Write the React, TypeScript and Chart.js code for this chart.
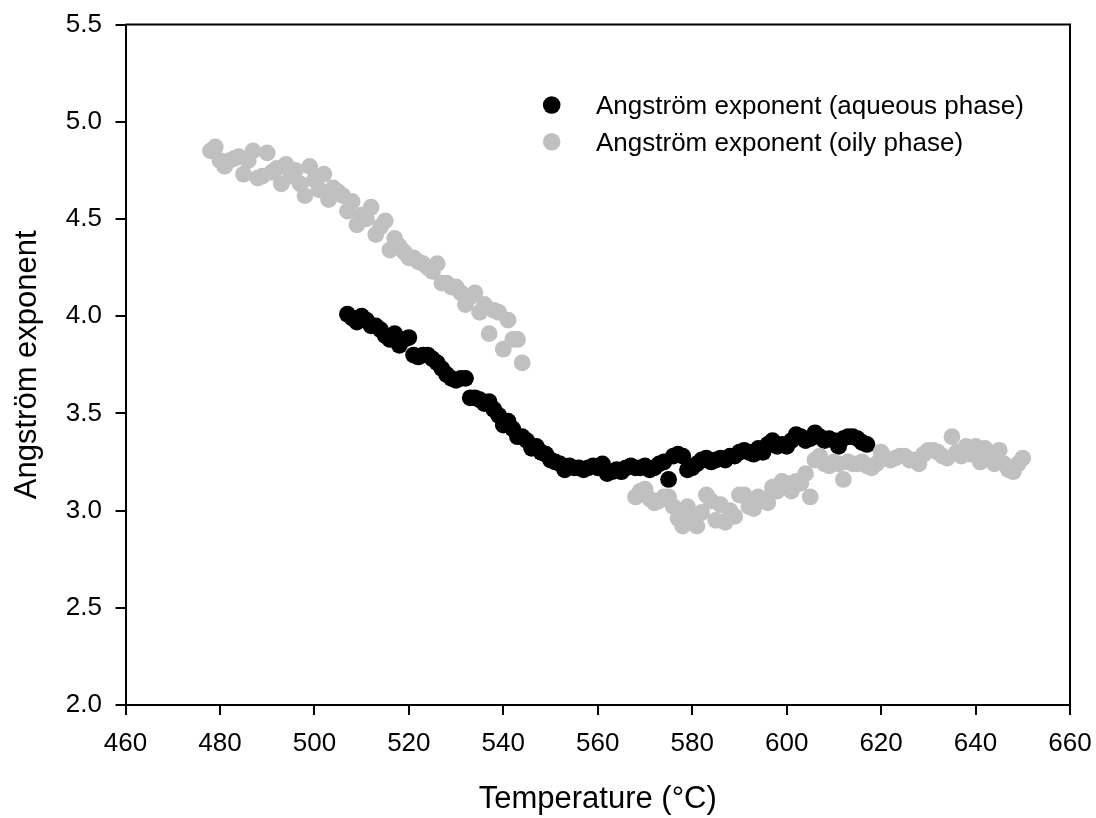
import React, { useEffect, useRef } from "react";
import { Chart, registerables } from "chart.js";

Chart.register(...registerables);

const FONT = "'Liberation Sans', Arial, Helvetica, sans-serif";

const aqueousTemp = [
  507, 508, 509, 510, 511, 512, 513, 514, 515, 516,
  517, 518, 519, 520, 521, 522, 523, 524, 525, 526,
  527, 528, 529, 530, 531, 532, 533, 534, 535, 536,
  537, 538, 539, 540, 541, 542, 543, 544, 545, 546,
  547, 548, 549, 550, 551, 552, 553, 554, 555, 556,
  557, 558, 559, 560, 561, 562, 563, 564, 565, 566,
  567, 568, 569, 570, 571, 572, 573, 574, 575, 576,
  577, 578, 579, 580, 581, 582, 583, 584, 585, 586,
  587, 588, 589, 590, 591, 592, 593, 594, 595, 596,
  597, 598, 599, 600, 601, 602, 603, 604, 605, 606,
  607, 608, 609, 610, 611, 612, 613, 614, 615, 616, 617,
];
const aqueousValue = [
  4.01, 3.99, 3.97, 4.0, 3.98, 3.95, 3.95, 3.93, 3.9, 3.88,
  3.91, 3.85, 3.88, 3.89, 3.8, 3.79, 3.8, 3.8, 3.78, 3.76,
  3.73, 3.7, 3.68, 3.67, 3.68, 3.68, 3.58, 3.58, 3.57, 3.55,
  3.56, 3.52, 3.49, 3.44, 3.46, 3.42, 3.38, 3.38, 3.36, 3.32,
  3.33, 3.3, 3.29, 3.26, 3.25, 3.24, 3.21, 3.23, 3.22, 3.22,
  3.21, 3.22, 3.23, 3.22, 3.24, 3.19, 3.2, 3.21, 3.2, 3.22,
  3.23, 3.22, 3.22, 3.23, 3.21, 3.22, 3.24, 3.25, 3.16, 3.28,
  3.29, 3.28, 3.21, 3.22, 3.24, 3.26, 3.27, 3.25, 3.26, 3.27,
  3.26, 3.28, 3.28, 3.3, 3.31, 3.3, 3.29, 3.32, 3.3, 3.34,
  3.36, 3.33, 3.34, 3.33, 3.36, 3.39, 3.38, 3.36, 3.37, 3.4,
  3.38, 3.36, 3.37, 3.36, 3.33, 3.37, 3.38, 3.38, 3.37, 3.35, 3.34,
];

const oilyTemp = [
  478, 479, 480, 481, 482, 483, 484, 485, 486, 487,
  488, 489, 490, 491, 492, 493, 494, 495, 496, 497,
  498, 499, 500, 501, 502, 503, 504, 505, 506, 507,
  508, 509, 510, 511, 512, 513, 514, 515, 516, 517,
  518, 519, 520, 521, 522, 523, 524, 525, 526, 527,
  528, 529, 530, 531, 532, 533, 534, 535, 536, 537,
  538, 539, 540, 541, 542, 543, 544,
  568, 569, 570, 571, 572, 573, 574, 575, 576, 577,
  578, 579, 580, 581, 582, 583, 584, 585, 586, 587,
  588, 589, 590, 591, 592, 593, 594, 595, 596, 597,
  598, 599, 600, 601, 602, 603, 604, 605, 606, 607,
  608, 609, 610, 611, 612, 613, 614, 615, 616, 617,
  618, 619, 620, 621, 622, 623, 624, 625, 626, 627,
  628, 629, 630, 631, 632, 633, 634, 635, 636, 637,
  638, 639, 640, 641, 642, 643, 644, 645, 646, 647,
  648, 649, 650,
];
const oilyValue = [
  4.85, 4.87, 4.8, 4.77, 4.8, 4.81, 4.82, 4.73, 4.8, 4.85,
  4.71, 4.72, 4.84, 4.74, 4.76, 4.68, 4.78, 4.72, 4.75, 4.68,
  4.62, 4.77, 4.7, 4.65, 4.73, 4.6, 4.66, 4.64, 4.62, 4.54,
  4.59, 4.47, 4.52, 4.5, 4.56, 4.42, 4.46, 4.49, 4.34, 4.4,
  4.36, 4.33, 4.3, 4.3, 4.28, 4.27, 4.25, 4.23, 4.27, 4.17,
  4.17, 4.15, 4.15, 4.12, 4.06, 4.1, 4.12, 4.02, 4.06, 3.91,
  4.03, 4.02, 3.83, 3.98, 3.88, 3.88, 3.76,
  3.07, 3.1, 3.11, 3.06, 3.04, 3.05, 3.07, 3.07, 3.02, 2.96,
  2.92, 3.02, 2.95, 2.92, 2.99, 3.08, 3.05, 2.95, 3.03, 2.94,
  3.0, 2.97, 3.08, 3.08, 3.02, 3.01, 3.07, 3.06, 3.04, 3.12,
  3.1, 3.15, 3.14, 3.1, 3.15, 3.14, 3.19, 3.07, 3.26, 3.28,
  3.24, 3.23, 3.25, 3.24, 3.16, 3.25, 3.24, 3.24, 3.25, 3.23,
  3.22, 3.24, 3.3, 3.27, 3.26, 3.27, 3.28, 3.28, 3.26, 3.26,
  3.24, 3.29, 3.31, 3.31, 3.3, 3.28, 3.27, 3.38, 3.3, 3.28,
  3.33, 3.29, 3.33, 3.25, 3.32, 3.27, 3.24, 3.31, 3.24, 3.21,
  3.2, 3.24, 3.27,
];

const seriesLabels = [
  "Angström exponent (aqueous phase)",
  "Angström exponent (oily phase)",
];
const seriesColors = ["#000000", "#c0c0c0"];

const xTitle = "Temperature (°C)";
const yTitle = "Angström exponent";

const toPoints = (xs: number[], ys: number[]) =>
  xs.map((x, i) => ({ x, y: ys[i] }));

const framePlugin = {
  id: "frame",
  afterDraw(chart: any) {
    const { ctx, chartArea } = chart;
    ctx.save();
    ctx.strokeStyle = "#000";
    ctx.lineWidth = 2;
    ctx.beginPath();
    ctx.moveTo(chartArea.left, chartArea.top);
    ctx.lineTo(chartArea.right, chartArea.top);
    ctx.lineTo(chartArea.right, chartArea.bottom);
    ctx.stroke();
    ctx.restore();
  },
};

const legendPlugin = {
  id: "insideLegend",
  afterDraw(chart: any) {
    const { ctx } = chart;
    ctx.save();
    ctx.font = `26px ${FONT}`;
    ctx.textAlign = "left";
    ctx.textBaseline = "alphabetic";
    const rows = [
      { markY: 105, baseY: 114.3 },
      { markY: 141.7, baseY: 151 },
    ];
    rows.forEach((r, i) => {
      ctx.fillStyle = seriesColors[i];
      ctx.beginPath();
      ctx.arc(551.7, r.markY, 8.8, 0, Math.PI * 2);
      ctx.fill();
      ctx.fillStyle = "#000";
      ctx.fillText(seriesLabels[i], 596, r.baseY);
    });
    ctx.restore();
  },
};

export default function App() {
  const canvasRef = useRef<HTMLCanvasElement | null>(null);

  useEffect(() => {
    if (!canvasRef.current) return;
    const chart = new Chart(canvasRef.current, {
      type: "scatter",
      data: {
        datasets: [
          {
            label: seriesLabels[0],
            data: toPoints(aqueousTemp, aqueousValue),
            backgroundColor: seriesColors[0],
            borderWidth: 0,
            pointRadius: 8.4,
            order: 1,
          },
          {
            label: seriesLabels[1],
            data: toPoints(oilyTemp, oilyValue),
            backgroundColor: seriesColors[1],
            borderWidth: 0,
            pointRadius: 8.4,
            order: 0,
          },
        ],
      },
      options: {
        animation: false,
        responsive: true,
        maintainAspectRatio: false,
        layout: { padding: { left: 0, top: 24.5, right: 26, bottom: 0 } },
        plugins: {
          legend: { display: false },
          tooltip: { enabled: false },
        },
        scales: {
          x: {
            type: "linear",
            min: 460,
            max: 660,
            afterFit: (s: any) => {
              s.height = 113;
              s.paddingLeft = 0;
              s.paddingRight = 0;
            },
            ticks: {
              stepSize: 20,
              color: "#000",
              padding: 13,
              font: { family: FONT, size: 26 },
            },
            grid: {
              display: true,
              drawOnChartArea: false,
              drawTicks: true,
              tickLength: 10,
              color: "#000",
              lineWidth: 2,
            },
            border: { display: true, color: "#000", width: 2 },
            title: {
              display: true,
              text: xTitle,
              color: "#000",
              font: { family: FONT, size: 31 },
              padding: { top: 0, bottom: 0 },
            },
          },
          y: {
            type: "linear",
            min: 2,
            max: 5.5,
            afterFit: (s: any) => {
              s.width = 125.5;
              s.paddingTop = 0;
              s.paddingBottom = 0;
            },
            ticks: {
              stepSize: 0.5,
              color: "#000",
              padding: 13.5,
              font: { family: FONT, size: 26 },
              callback: (v: any) => Number(v).toFixed(1),
            },
            grid: {
              display: true,
              drawOnChartArea: false,
              drawTicks: true,
              tickLength: 10,
              color: "#000",
              lineWidth: 2,
            },
            border: { display: true, color: "#000", width: 2 },
            title: {
              display: true,
              text: yTitle,
              color: "#000",
              font: { family: FONT, size: 31 },
              padding: { top: 8.4, bottom: 0 },
            },
          },
        },
      },
      plugins: [framePlugin, legendPlugin],
    });
    return () => chart.destroy();
  }, []);

  return (
    <div
      style={{
        position: "absolute",
        left: 0,
        top: 0,
        width: 1096,
        height: 818,
        background: "#fff",
      }}
    >
      <canvas ref={canvasRef} />
    </div>
  );
}
